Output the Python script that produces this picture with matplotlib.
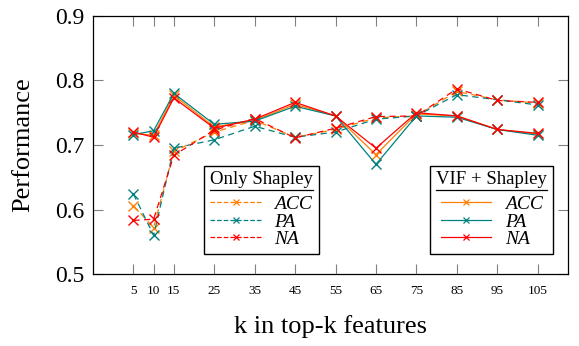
import matplotlib
matplotlib.use("Agg")
from matplotlib import pyplot as plt
from matplotlib.lines import Line2D

plt.rcParams['font.family'] = ['Liberation Serif', 'DejaVu Serif']

# k values and scores
k = [5, 10, 15, 25, 35, 45, 55, 65, 75, 85, 95, 105]

# VIF + Shapley (solid)
vif_acc = [0.718, 0.715, 0.777, 0.728, 0.738, 0.763, 0.745, 0.685, 0.748, 0.745, 0.724, 0.717]
vif_pa = [0.716, 0.722, 0.780, 0.732, 0.737, 0.760, 0.745, 0.670, 0.745, 0.743, 0.724, 0.715]
vif_na = [0.720, 0.712, 0.773, 0.726, 0.740, 0.766, 0.745, 0.695, 0.750, 0.745, 0.724, 0.718]

# Only Shapley (dashed)
sh_acc = [0.606, 0.572, 0.690, 0.720, 0.738, 0.712, 0.724, 0.742, 0.745, 0.783, 0.770, 0.765]
sh_pa = [0.624, 0.560, 0.695, 0.708, 0.729, 0.712, 0.720, 0.740, 0.745, 0.778, 0.770, 0.762]
sh_na = [0.583, 0.585, 0.684, 0.723, 0.741, 0.711, 0.726, 0.744, 0.745, 0.787, 0.769, 0.766]

labels = ['ACC', 'PA', 'NA']
colors = [(1.0, 0.5, 0.0), (0.0, 0.5, 0.5), (1.0, 0.0, 0.0)]

fig = plt.figure(figsize=(5.79, 3.46), dpi=100)
ax = fig.add_axes([0.1606, 0.208, 0.8204, 0.746])

sh_handles, vif_handles = [], []
for ys, c, lab in zip([sh_acc, sh_pa, sh_na], colors, labels):
    h, = ax.plot(k, ys, color=c, ls=(0, (5, 3.5)), lw=0.9, marker='x', ms=7.5, mew=1.0,
                 label=lab)
    sh_handles.append(h)
for ys, c, lab in zip([vif_acc, vif_pa, vif_na], colors, labels):
    h, = ax.plot(k, ys, color=c, ls='-', lw=0.9, marker='x', ms=7.5, mew=1.0,
                 label=lab)
    vif_handles.append(h)

ax.set_xlim(-5, 112.5)
ax.set_ylim(0.5, 0.9)
ax.set_xticks(k)
ax.set_yticks([0.5, 0.6, 0.7, 0.8, 0.9])
ax.set_yticklabels(['0.5', '0.6', '0.7', '0.8', '0.9'])
ax.tick_params(axis='x', direction='in', top=True, length=7, width=0.8,
               color='#808080', labelsize=9.5, pad=8)
ax.tick_params(axis='y', direction='in', right=True, length=7, width=0.8,
               color='#808080', labelsize=17, pad=6)
for s in ax.spines.values():
    s.set_linewidth(0.9)

ax.set_xlabel('k in top-k features', fontsize=19, labelpad=13)
ax.set_ylabel('Performance', fontsize=19, labelpad=15)


def make_legend(handles, title, loc, anchor):
    proxies = [Line2D([], [], color=h.get_color(), ls=h.get_linestyle(), lw=0.9,
                      marker='x', ms=4, mew=0.9) for h in handles]
    leg = ax.legend(proxies, [h.get_label() for h in handles], title=title,
                    loc=loc, bbox_to_anchor=anchor, borderaxespad=0,
                    fontsize=14, title_fontsize=13.5, frameon=True, fancybox=False,
                    edgecolor='black', framealpha=1, handlelength=2.6,
                    handletextpad=0.7, labelspacing=0.0, borderpad=0.3)
    leg.get_frame().set_linewidth(1.0)
    leg._legend_box.sep = 5
    for t in leg.get_texts():
        t.set_fontstyle('italic')
    return leg


leg1 = make_legend(sh_handles, 'Only Shapley', 'lower left', (0.234, 0.0775))
ax.add_artist(leg1)
leg2 = make_legend(vif_handles, 'VIF + Shapley', 'lower right', (0.968, 0.0775))

# underline under the legend titles
fig.canvas.draw()
for leg in (leg1, leg2):
    fb = leg.get_frame().get_window_extent()
    tb = leg.get_title().get_window_extent()
    y = tb.y0 - 2
    inv = fig.transFigure.inverted()
    (x0, yy), = inv.transform([(fb.x0 + 6, y)])
    (x1, _), = inv.transform([(fb.x1 - 6, y)])
    fig.add_artist(Line2D([x0, x1], [yy, yy], color='black', lw=0.9))

fig.savefig('out.png', dpi=100)
